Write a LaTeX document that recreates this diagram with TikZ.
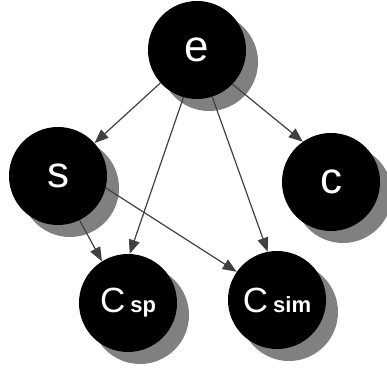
\documentclass[tikz,border=0pt]{standalone}
\usepackage{fontspec}
\setmainfont{Liberation Sans}
\usetikzlibrary{arrows.meta,shadows}
\definecolor{edgegray}{HTML}{404040}
\definecolor{shadegray}{HTML}{808080}
\begin{document}
\begin{tikzpicture}[x=1pt,y=1pt,
  blob/.style={circle, fill=black, minimum size=98pt, inner sep=0pt,
    text=white,
    drop shadow={shadow xshift=12pt, shadow yshift=-12pt, fill=shadegray, opacity=1}},
  big/.style={font=\fontsize{44}{44}\selectfont},
  link/.style={draw=edgegray, line width=1.2pt,
    -{Triangle[length=14pt,width=11pt]}}
]
\useasboundingbox (0,0) rectangle (387,369);

\newcommand{\capsub}[2]{{\fontsize{35}{35}\selectfont #1}\hspace{5pt}{\bfseries\fontsize{22}{22}\selectfont #2}}

\node[blob, big] (e)    at (197,319) {e};
\node[blob, big] (s)    at (58,193)  {s};
\node[blob, big] (c)    at (331,187) {c};
\node[blob]      (csp)  at (128,66)  {\capsub{C}{sp}};
\node[blob]      (csim) at (277,69)  {\capsub{C}{sim}};

\draw[link] (e.222) -- (s.42);
\draw[link] (e.316) -- (c.125);
\draw[link] (e.254) -- (csp.88);
\draw[link] (e.288) -- (csim.101);
\draw[link] (s.296) -- (csp.122);
\draw[link] (s.346) -- (csim.145);
\end{tikzpicture}
\end{document}
